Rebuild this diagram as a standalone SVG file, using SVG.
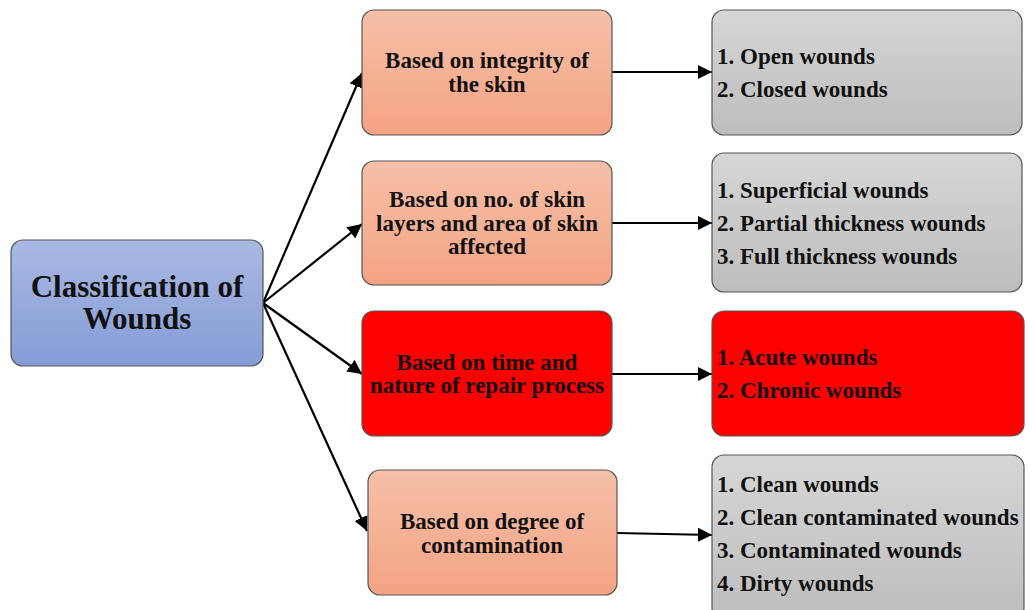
<svg xmlns="http://www.w3.org/2000/svg" width="1035" height="610" viewBox="0 0 1035 610">
<defs>
<linearGradient id="gBlue" x1="0" y1="0" x2="0" y2="1"><stop offset="0" stop-color="#a9b9e2"/><stop offset="1" stop-color="#859cd6"/></linearGradient>
<linearGradient id="gOr" x1="0" y1="0" x2="0" y2="1"><stop offset="0" stop-color="#f6c0a8"/><stop offset="1" stop-color="#f4a383"/></linearGradient>
<linearGradient id="gGr" x1="0" y1="0" x2="0" y2="1"><stop offset="0" stop-color="#d6d6d6"/><stop offset="1" stop-color="#bdbdbd"/></linearGradient>
<marker id="ah" viewBox="0 0 10 10" refX="10" refY="5" markerWidth="6.5" markerHeight="6.5" orient="auto" markerUnits="strokeWidth"><path d="M0,0 L10,5 L0,10 z" fill="#000"/></marker>
</defs>
<style>
rect{stroke:#555;stroke-width:1.2}
.t{font-family:"Liberation Serif","Times New Roman",serif;font-weight:bold;font-size:23px;fill:#111}
.c{text-anchor:middle}
.big{font-size:31px}
.ln{stroke:#000;stroke-width:2.2;fill:none;marker-end:url(#ah)}
</style>
<rect width="1035" height="610" fill="#fff" style="stroke:none"/>
<g id="connectors">
<line class="ln" x1="263" y1="303" x2="362" y2="73"/>
<line class="ln" x1="263" y1="303" x2="362" y2="224"/>
<line class="ln" x1="263" y1="303" x2="362" y2="374"/>
<line class="ln" x1="263" y1="303" x2="367" y2="531"/>
<line class="ln" x1="612" y1="72" x2="712" y2="72"/>
<line class="ln" x1="612" y1="223" x2="712" y2="223"/>
<line class="ln" x1="612" y1="374" x2="712" y2="374"/>
<line class="ln" x1="617" y1="533" x2="712" y2="535"/>
</g>
<g id="root">
<rect x="11" y="240" width="252" height="126" rx="12" fill="url(#gBlue)"/>
<text class="t c big" x="137" y="297">Classification of</text>
<text class="t c big" x="137" y="329">Wounds</text>
</g>
<g id="n1">
<rect x="362" y="10" width="250" height="125" rx="12" fill="url(#gOr)"/>
<text class="t c" x="487" y="68">Based on integrity of</text>
<text class="t c" x="487" y="92">the skin</text>
</g>
<g id="n2">
<rect x="362" y="161" width="250" height="124" rx="12" fill="url(#gOr)"/>
<text class="t c" x="487" y="207">Based on no. of skin</text>
<text class="t c" x="487" y="231">layers and area of skin</text>
<text class="t c" x="487" y="254">affected</text>
</g>
<g id="n3">
<rect x="362" y="311" width="250" height="125" rx="12" fill="#ff0000"/>
<text class="t c" x="487" y="370">Based on time and</text>
<text class="t c" x="487" y="393">nature of repair process</text>
</g>
<g id="n4">
<rect x="368" y="470" width="249" height="125" rx="12" fill="url(#gOr)"/>
<text class="t c" x="492" y="529">Based on degree of</text>
<text class="t c" x="492" y="553">contamination</text>
</g>
<g id="l1">
<rect x="712" y="10" width="310" height="125" rx="12" fill="url(#gGr)"/>
<text class="t" x="717" y="64">1. Open wounds</text>
<text class="t" x="717" y="97">2. Closed wounds</text>
</g>
<g id="l2">
<rect x="712" y="153" width="310" height="139" rx="12" fill="url(#gGr)"/>
<text class="t" x="717" y="198">1. Superficial wounds</text>
<text class="t" x="717" y="231">2. Partial thickness wounds</text>
<text class="t" x="717" y="264">3. Full thickness wounds</text>
</g>
<g id="l3">
<rect x="712" y="311" width="312" height="125" rx="12" fill="#ff0000"/>
<text class="t" x="717" y="365">1. Acute wounds</text>
<text class="t" x="717" y="398">2. Chronic wounds</text>
</g>
<g id="l4">
<rect x="712" y="455" width="312" height="165" rx="12" fill="url(#gGr)"/>
<text class="t" x="717" y="492">1. Clean wounds</text>
<text class="t" x="717" y="525">2. Clean contaminated wounds</text>
<text class="t" x="717" y="558">3. Contaminated wounds</text>
<text class="t" x="717" y="591">4. Dirty wounds</text>
</g>
</svg>
